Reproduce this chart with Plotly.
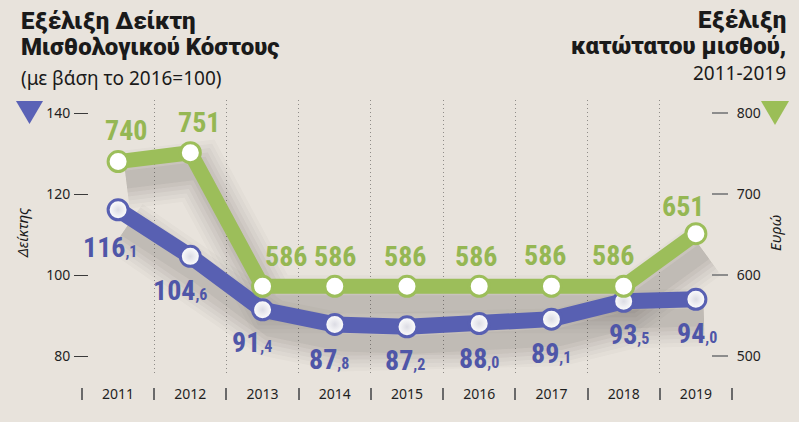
import plotly.graph_objects as go

# ---------------- data ----------------
years = ["2011", "2012", "2013", "2014", "2015", "2016", "2017", "2018", "2019"]
index_vals = [116.1, 104.6, 91.4, 87.8, 87.2, 88.0, 89.1, 93.5, 94.0]
wage_vals = [740, 751, 586, 586, 586, 586, 586, 586, 651]
left_ticks = [80, 100, 120, 140]
right_ticks = [500, 600, 700, 800]

# label offsets (pixels) for the value labels
blue_shift = [(-8, -38), (-10, -34), (-11, -33), (-6, -35), (-2, -34), (0, -35), (0, -34), (5, -33), (1, -34)]
green_shift = [(8, 31), (9, 30), (23, 30), (0, 30), (-2, 30), (-3, 30), (-6, 31), (-11, 31), (-13, 27)]

# ---------------- geometry ----------------
W, H = 799, 422
ML, MR, MT, MB = 82, 67, 100, 22
PW = W - ML - MR
PH = H - MT - MB
PLOT_BOTTOM = 375
dom0 = (H - MB - PLOT_BOTTOM) / PH


def pxx(x):
    return (x - ML) / PW


def pxy(y):
    return (H - MB - y) / PH


n = len(years)
xs = list(range(n))
XR = [-0.5, n - 0.5]
# left scale: 80 -> y=356px, 140 -> y=113px
lu = (140 - 80) / (356 - 113)
YL = [80 - (PLOT_BOTTOM - 356) * lu, 140 + (113 - MT) * lu]
ru = (800 - 500) / (356 - 113)
YR = [500 - (PLOT_BOTTOM - 356) * ru, 800 + (113 - MT) * ru]

# shadow offsets
SDX, SDY = 8, 18
sdx = SDX * (XR[1] - XR[0]) / PW
XS = [XR[0] - sdx, XR[1] - sdx]
YLS = [YL[0] + SDY * lu, YL[1] + SDY * lu]
YRS = [YR[0] + SDY * ru, YR[1] + SDY * ru]

BG = "#e8e3dc"
BLUE = "#5860b2"
BLUE_T = "#4f56a8"
GREEN = "#9cbe5a"
GREEN_T = "#95b753"

fig = go.Figure()

SHADOW_LAYERS = [(58, 0.024), (50, 0.028), (42, 0.032), (34, 0.038), (26, 0.045), (18, 0.05)]
# shadows
for w, op in SHADOW_LAYERS:
    fig.add_trace(go.Scatter(x=xs, y=index_vals, xaxis="x", yaxis="y", mode="lines",
                             line=dict(color=f"rgba(40,36,32,{op})", width=w),
                             hoverinfo="skip", showlegend=False))
for w, op in SHADOW_LAYERS:
    fig.add_trace(go.Scatter(x=xs, y=wage_vals, xaxis="x", yaxis="y3", mode="lines",
                             line=dict(color=f"rgba(40,36,32,{op})", width=w),
                             hoverinfo="skip", showlegend=False))

# main series
fig.add_trace(go.Scatter(x=xs, y=index_vals, xaxis="x2", yaxis="y2", mode="lines+markers",
                         line=dict(color=BLUE, width=16),
                         marker=dict(size=20, color="white", line=dict(color=BLUE, width=3),
                                     gradient=dict(type="radial", color="#dcdce4")),
                         showlegend=False, cliponaxis=False))
fig.add_trace(go.Scatter(x=xs, y=wage_vals, xaxis="x2", yaxis="y4", mode="lines+markers",
                         line=dict(color=GREEN, width=15),
                         marker=dict(size=20, color="white", line=dict(color=GREEN, width=3)),
                         showlegend=False, cliponaxis=False))

# helper axes (ticks and labels)
fig.add_trace(go.Scatter(x=[], y=[], xaxis="x3", yaxis="y2", showlegend=False))
fig.add_trace(go.Scatter(x=[], y=[], xaxis="x4", yaxis="y2", showlegend=False))

LABEL_FONT = "Liberation Sans Narrow, Roboto Condensed, DejaVu Sans Condensed, sans-serif"


def fmt(v):
    s = f"{v:.1f}"
    a, b = s.split(".")
    return f"{a}<span style='font-size:16px'>,{b}</span>"


annotations = []
for i, v in enumerate(index_vals):
    dx, dy = blue_shift[i]
    annotations.append(dict(x=xs[i], y=v, xref="x2", yref="y2", text=fmt(v), showarrow=False,
                            xshift=dx, yshift=dy, xanchor="center", yanchor="middle",
                            font=dict(family=LABEL_FONT, size=28, color=BLUE_T, weight="bold")))
for i, v in enumerate(wage_vals):
    dx, dy = green_shift[i]
    annotations.append(dict(x=xs[i], y=v, xref="x2", yref="y4", text=str(v), showarrow=False,
                            xshift=dx, yshift=dy, xanchor="center", yanchor="middle",
                            font=dict(family=LABEL_FONT, size=28, color=GREEN_T, weight="bold")))

TFONT = "Noto Sans, Open Sans, sans-serif"
HEAD = dict(family="Roboto, Noto Sans, sans-serif", size=24, color="#1a1a1a", weight=900)
SUB = dict(family=TFONT, size=19, color="#1a1a1a")
annotations += [
    dict(text="Εξέλιξη Δείκτη", x=pxx(19), y=pxy(21), xref="paper", yref="paper",
         xanchor="left", yanchor="middle", showarrow=False, font=HEAD),
    dict(text="Μισθολογικού Κόστους", x=pxx(19), y=pxy(47), xref="paper", yref="paper",
         xanchor="left", yanchor="middle", showarrow=False, font=HEAD),
    dict(text="(με βάση το 2016=100)", x=pxx(19), y=pxy(78), xref="paper", yref="paper",
         xanchor="left", yanchor="middle", showarrow=False, font=SUB),
    dict(text="Εξέλιξη", x=pxx(788), y=pxy(20), xref="paper", yref="paper",
         xanchor="right", yanchor="middle", showarrow=False, font=HEAD),
    dict(text="κατώτατου μισθού,", x=pxx(788), y=pxy(46), xref="paper", yref="paper",
         xanchor="right", yanchor="middle", showarrow=False, font=HEAD),
    dict(text="2011-2019", x=pxx(788), y=pxy(73), xref="paper", yref="paper",
         xanchor="right", yanchor="middle", showarrow=False, font=SUB),
    dict(text="<i>Δείκτης</i>", x=pxx(22), y=pxy(233), xref="paper", yref="paper", textangle=-90,
         xanchor="center", yanchor="middle", showarrow=False, font=dict(family=TFONT, size=15, color="#1a1a1a")),
    dict(text="<i>Ευρώ</i>", x=pxx(775), y=pxy(233), xref="paper", yref="paper", textangle=-90,
         xanchor="center", yanchor="middle", showarrow=False, font=dict(family=TFONT, size=15, color="#1a1a1a")),
]


def tri(x0, x1, y0, y1, color):
    xm = (x0 + x1) / 2
    path = f"M {pxx(x0)} {pxy(y0)} L {pxx(x1)} {pxy(y0)} L {pxx(xm)} {pxy(y1)} Z"
    return dict(type="path", path=path, xref="paper", yref="paper", fillcolor=color,
                line=dict(width=0), layer="above")


shapes = [tri(16, 43, 101, 124, "#5a62b6"), tri(761, 789, 101, 125, "#9bbe57")]

TICKFONT = dict(family=TFONT, size=14, color="#1f1f1f")

fig.update_layout(
    width=W, height=H,
    margin=dict(l=ML, r=MR, t=MT, b=MB),
    paper_bgcolor=BG, plot_bgcolor=BG,
    showlegend=False,
    annotations=annotations,
    shapes=shapes,
    xaxis=dict(range=XS, visible=False, domain=[0, 1], fixedrange=True),
    yaxis=dict(range=YLS, visible=False, domain=[dom0, 1], fixedrange=True),
    yaxis3=dict(range=YRS, visible=False, overlaying="y", fixedrange=True),
    xaxis2=dict(range=XR, overlaying="x", anchor="y2", tickmode="array",
                tickvals=[i + 0.5 for i in range(n - 1)], showticklabels=False, ticks="",
                showgrid=True, gridcolor="#8f8c88", griddash="1px,3px", gridwidth=1,
                zeroline=False, showline=False),
    yaxis2=dict(range=YL, overlaying="y", anchor="free", position=pxx(88), side="left",
                tickmode="array", tickvals=left_ticks, ticks="outside", ticklen=14,
                tickcolor="#3a3a3a", tickwidth=1.3, showgrid=False, zeroline=False,
                showline=False, tickfont=TICKFONT, ticklabelstandoff=1),
    yaxis4=dict(range=YR, overlaying="y", anchor="free", position=pxx(711), side="right",
                tickmode="array", tickvals=right_ticks, ticks="outside", ticklen=16,
                tickcolor="#8c8c8c", tickwidth=2, showgrid=False, zeroline=False,
                showline=False, tickfont=TICKFONT, ticklabelstandoff=6),
    xaxis3=dict(range=XR, overlaying="x", anchor="free", position=pxy(387),
                tickmode="array", tickvals=[i - 0.5 for i in range(n + 1)], ticks="outside",
                ticklen=12, tickwidth=1.5, tickcolor="#6a6a6a", showticklabels=False,
                showgrid=False, zeroline=False, showline=False),
    xaxis4=dict(range=XR, overlaying="x", anchor="free", position=pxy(384),
                tickmode="array", tickvals=xs, ticktext=years, ticks="",
                showgrid=False, zeroline=False, showline=False, tickfont=TICKFONT),
)

fig.write_html("out.html")
